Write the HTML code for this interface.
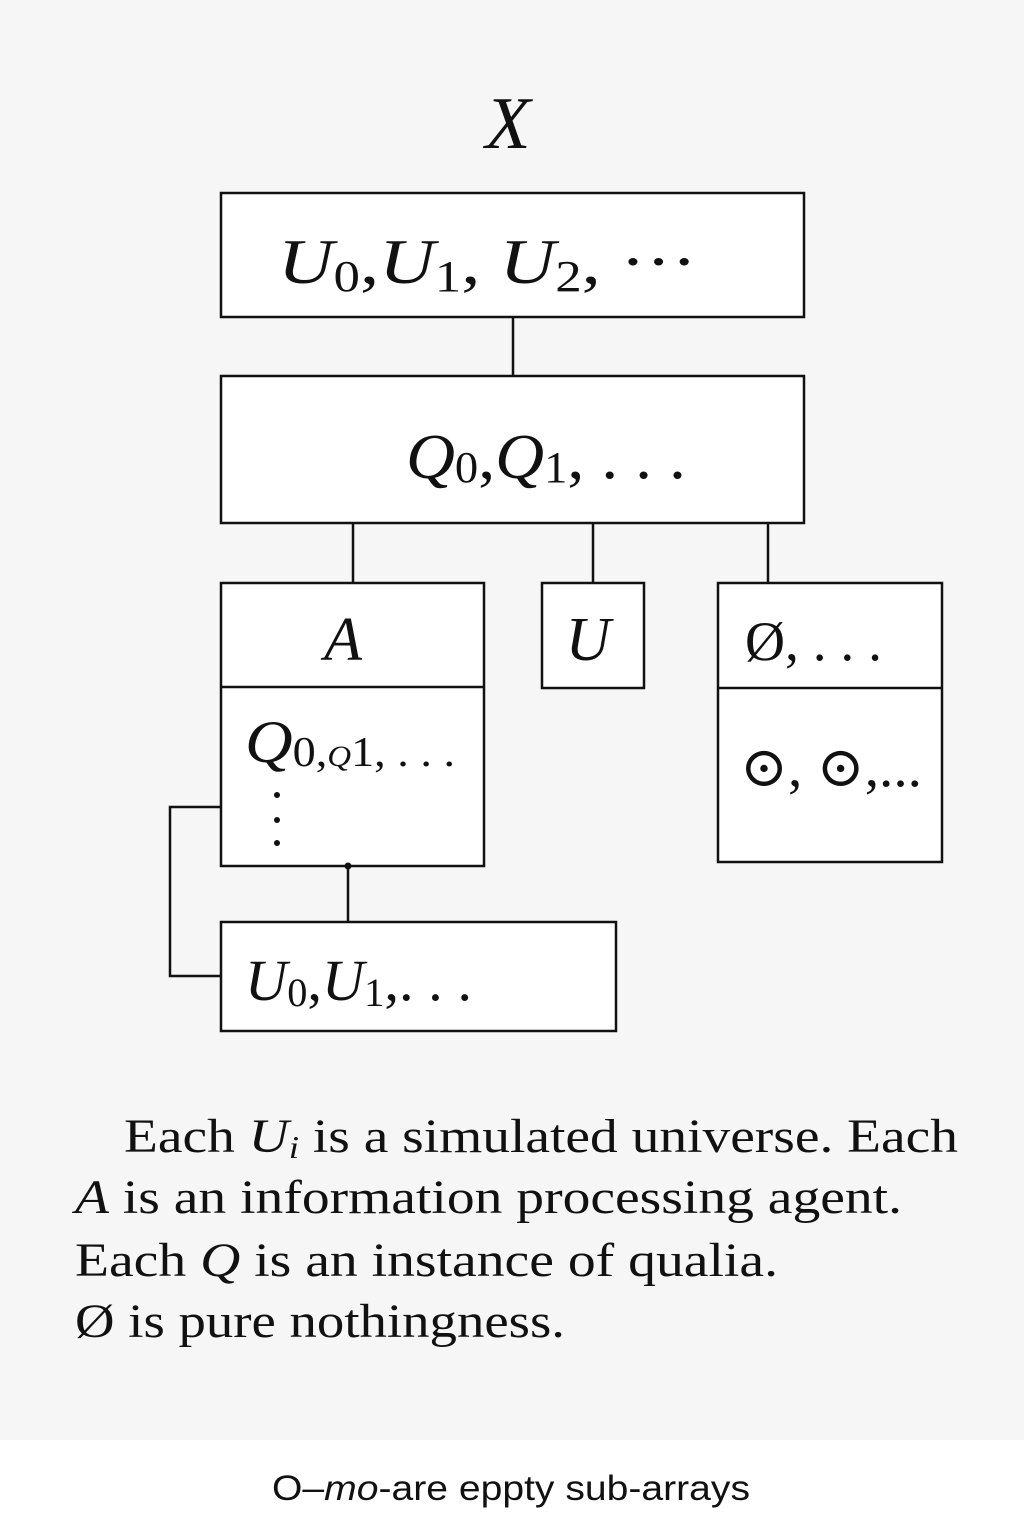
<!DOCTYPE html>
<html><head><meta charset="utf-8"><style>
html,body{margin:0;padding:0;}
body{width:1024px;height:1536px;background:#fff;}
svg{display:block}
.m{font-family:"Liberation Serif","DejaVu Serif",serif;font-style:italic;fill:#111}
.r{font-family:"Liberation Serif","DejaVu Serif",serif;fill:#111}
</style></head><body>
<svg width="1024" height="1536" viewBox="0 0 1024 1536" xmlns="http://www.w3.org/2000/svg">
<rect x="0" y="0" width="1024" height="1440" fill="#f6f6f6"/>
<rect x="0" y="1440" width="1024" height="96" fill="#fff"/>
<g stroke="#111" stroke-width="2.5" fill="#fff">
<rect x="221" y="193" width="583" height="124"/>
<rect x="221" y="376" width="583" height="147"/>
<rect x="221" y="583" width="263" height="283"/>
<rect x="542" y="583" width="102" height="105"/>
<rect x="718" y="583" width="224" height="279"/>
<rect x="221" y="922" width="395" height="109"/>
</g>
<g stroke="#111" stroke-width="2.5" fill="none">
<line x1="221" y1="687" x2="484" y2="687"/>
<line x1="718" y1="688" x2="942" y2="688"/>
<line x1="513" y1="317" x2="513" y2="376"/>
<line x1="353" y1="523" x2="353" y2="583"/>
<line x1="593" y1="523" x2="593" y2="583"/>
<line x1="768" y1="523" x2="768" y2="583"/>
<line x1="348" y1="866" x2="348" y2="922"/>
<polyline points="221,807 170,807 170,976 221,976"/>
</g>
<circle cx="348" cy="866" r="3.5" fill="#111"/>
<g fill="#111"><circle cx="277" cy="795" r="3"/><circle cx="277" cy="820" r="3"/><circle cx="277" cy="843" r="3"/></g>
<text x="508" y="148" text-anchor="middle" class="m" font-size="74">X</text>
<text x="278" y="283" class="m" font-size="64" textLength="419" lengthAdjust="spacingAndGlyphs">U<tspan class="r" font-style="normal" font-size="44" dy="8">0</tspan><tspan class="r" font-style="normal" dy="-8">,</tspan>U<tspan class="r" font-style="normal" font-size="44" dy="8">1</tspan><tspan class="r" font-style="normal" dy="-8">, </tspan>U<tspan class="r" font-style="normal" font-size="44" dy="8">2</tspan><tspan class="r" font-style="normal" dy="-8">, ···</tspan></text>
<text x="406" y="478" class="m" font-size="64" textLength="280" lengthAdjust="spacingAndGlyphs">Q<tspan class="r" font-style="normal" font-size="44" dy="4">0</tspan><tspan class="r" font-style="normal" dy="-4">,</tspan>Q<tspan class="r" font-style="normal" font-size="44" dy="4">1</tspan><tspan class="r" font-style="normal" dy="-4">, . . .</tspan></text>
<text x="343" y="660" text-anchor="middle" class="m" font-size="62">A</text>
<text x="588" y="660" text-anchor="middle" class="m" font-size="62">U</text>
<text x="745" y="660" class="r" font-size="56" textLength="137" lengthAdjust="spacingAndGlyphs">Ø, . . .</text>
<text x="245" y="762" class="m" font-size="60" textLength="210" lengthAdjust="spacingAndGlyphs">Q<tspan class="r" font-style="normal" font-size="42" dy="4">0,</tspan><tspan font-size="30">Q</tspan><tspan class="r" font-style="normal" font-size="42">1, . . .</tspan></text>
<text x="740" y="786" class="r" font-size="56" textLength="182" lengthAdjust="spacingAndGlyphs">⊙, ⊙,...</text>
<text x="245" y="1000" class="m" font-size="58" textLength="227" lengthAdjust="spacingAndGlyphs">U<tspan class="r" font-style="normal" font-size="40" dy="6">0</tspan><tspan class="r" font-style="normal" dy="-6">,</tspan>U<tspan class="r" font-style="normal" font-size="40" dy="6">1</tspan><tspan class="r" font-style="normal" dy="-6">,. . .</tspan></text>
<g class="r" font-size="48">
<text x="124" y="1152" textLength="834" lengthAdjust="spacingAndGlyphs">Each <tspan class="m">U<tspan font-size="32" dy="6">i</tspan></tspan><tspan dy="-6"> is a simulated universe. Each</tspan></text>
<text x="75" y="1213" textLength="827" lengthAdjust="spacingAndGlyphs"><tspan class="m">A</tspan> is an information processing agent.</text>
<text x="75" y="1276" textLength="703" lengthAdjust="spacingAndGlyphs">Each <tspan class="m">Q</tspan> is an instance of qualia.</text>
<text x="75" y="1337" textLength="490" lengthAdjust="spacingAndGlyphs">Ø is pure nothingness.</text>
</g>
<text x="272" y="1500" font-family="Liberation Sans, DejaVu Sans, sans-serif" font-size="35" fill="#111" textLength="478" lengthAdjust="spacingAndGlyphs">O–<tspan font-style="italic">mo</tspan>-are eppty sub-arrays</text>
</svg>
</body></html>
